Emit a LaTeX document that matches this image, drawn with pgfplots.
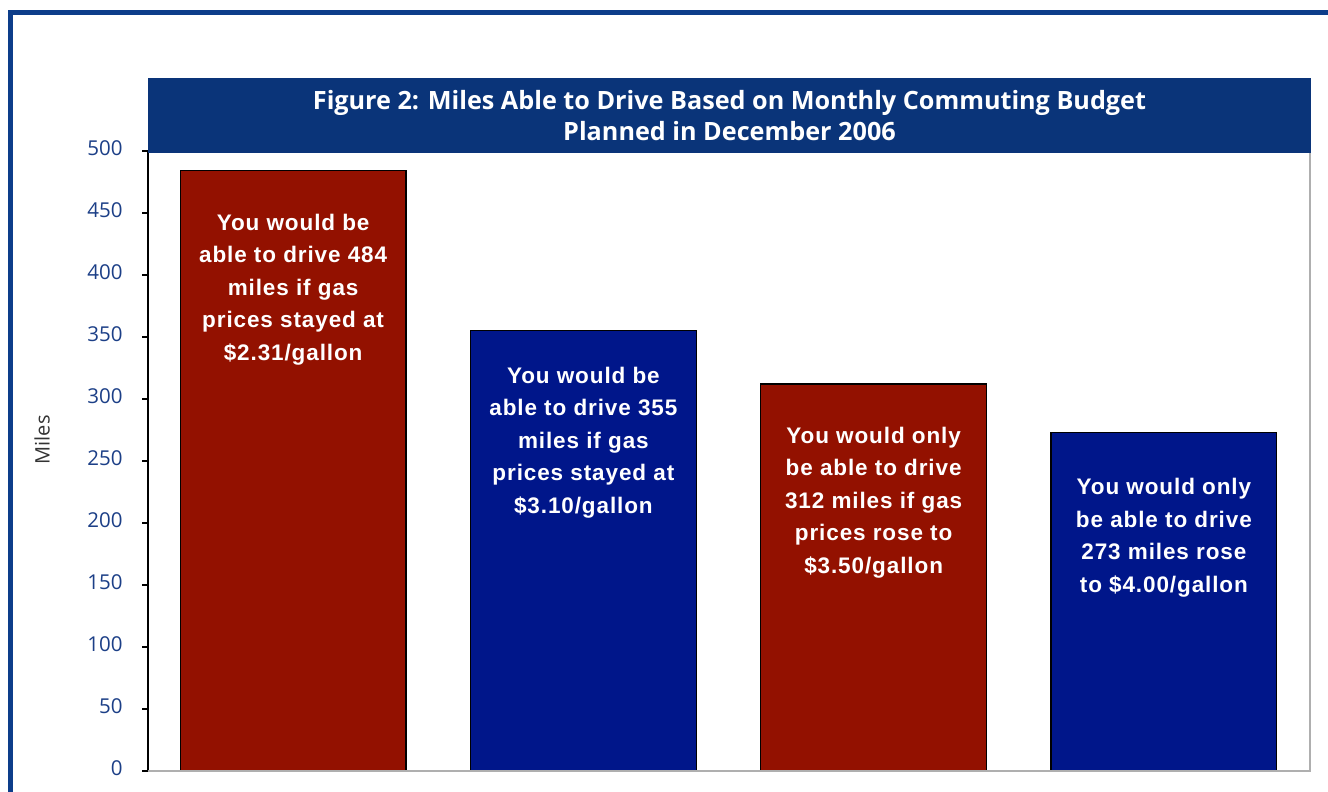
\documentclass[border=0pt]{standalone}
\usepackage{pgfplots}
\pgfplotsset{compat=1.18}
\usepackage{fontspec}
\setmainfont{Open Sans}
\newfontfamily\arialf[LetterSpace=4]{Liberation Sans}
\definecolor{barred}{RGB}{147,17,0}
\definecolor{barblue}{RGB}{0,22,138}
\definecolor{banner}{RGB}{10,52,121}
\definecolor{frameblue}{RGB}{13,61,138}
\definecolor{ticklab}{RGB}{28,63,135}
\definecolor{axgray}{RGB}{175,175,175}
\begin{document}
\begin{tikzpicture}[x=1bp,y=1bp]
\useasboundingbox (0,0) rectangle (1328,791);
\fill[white] (0,0) rectangle (1328,791);
\draw[frameblue, line width=5bp] (10,-5) -- (10,778.5) -- (1335,778.5);
\begin{axis}[
  at={(148bp,20bp)}, anchor=south west, scale only axis,
  width=1161bp, height=620bp,
  xmin=-0.5, xmax=3.5, ymin=0, ymax=500,
  axis line style={draw=none},
  xtick=\empty,
  ytick={0,50,...,500}, ytick pos=left, tick align=outside,
  major tick length=6bp,
  ytick style={black, line width=1.2bp},
  yticklabel style={font=\fontsize{20.5bp}{24bp}\selectfont, text=ticklab, yshift=3bp, xshift=-16bp},
  /pgf/number format/assume math mode=true,
  ylabel={Miles},
  every axis y label/.style={at={(rel axis cs:0,0.534)}, xshift=-106bp, rotate=90, anchor=center, font=\fontsize{20bp}{24bp}\selectfont, text=black!80},
  clip=false,
]
\addplot[ybar, bar shift=0pt, bar width=0.778, fill=barred, draw=black, line width=1.3bp] coordinates {(0,484) (2,312)};
\addplot[ybar, bar shift=0pt, bar width=0.778, fill=barblue, draw=black, line width=1.3bp] coordinates {(1,355) (3,273)};
\tikzset{bartext/.style={text=white, align=center, font=\arialf\bfseries\fontsize{22.5bp}{32.5bp}\selectfont}}
\node[bartext] at (axis cs:0,388.5) {You would be\\able to drive 484\\miles if gas\\prices stayed at\\\$2.31/gallon};
\node[bartext] at (axis cs:1,265) {You would be\\able to drive 355\\miles if gas\\prices stayed at\\\$3.10/gallon};
\node[bartext] at (axis cs:2,216.5) {You would only\\be able to drive\\312 miles if gas\\prices rose to\\\$3.50/gallon};
\node[bartext] at (axis cs:3,188) {You would only\\be able to drive\\273 miles rose\\to \$4.00/gallon};
\end{axis}
\draw[black, line width=2bp] (148,20) -- (148,640);
\draw[axgray, line width=2bp] (148,20) -- (1310,20) -- (1310,640);
\fill[banner] (148,638) rectangle (1311,713);
\node[text=white, align=center, font=\bfseries\fontsize{25.2bp}{31bp}\selectfont] at (729.5,675.5) {Figure 2: Miles Able to Drive Based on Monthly Commuting Budget\\Planned in December 2006};
\end{tikzpicture}
\end{document}
